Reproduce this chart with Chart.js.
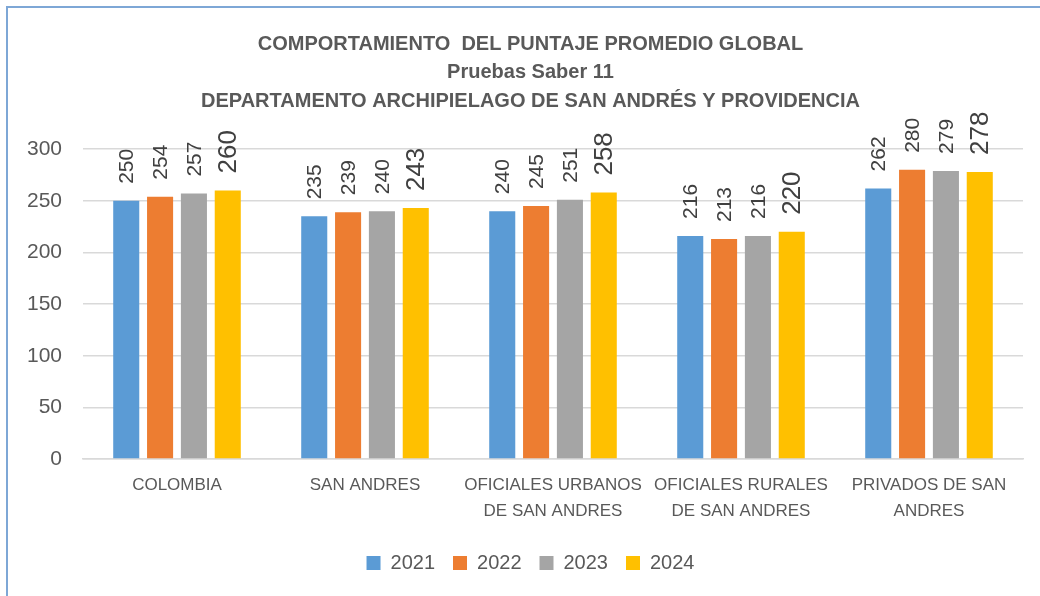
<!DOCTYPE html>
<html>
<head>
<meta charset="utf-8">
<script src="https://cdn.jsdelivr.net/npm/chart.js@4/dist/chart.umd.min.js"></script>
<style>
  body { margin: 0; background: #fff; }
  .frame { position: absolute; left: 6px; top: 6px; width: 1034px; height: 590px;
           border-top: 2px solid #7ea7d6; border-left: 2px solid #7ea7d6; }
  .wrap { position: absolute; left: 0; top: 0; width: 1040px; height: 596px; }
</style>
</head>
<body>
<div class="frame"></div>
<div class="wrap"><canvas class="js-chart" width="1040" height="596"></canvas></div>
<script>
const ctx = document.querySelector('.js-chart').getContext('2d');

const CATEGORIES = [
    ['COLOMBIA'],
    ['SAN ANDRES'],
    ['OFICIALES URBANOS', 'DE SAN ANDRES'],
    ['OFICIALES RURALES', 'DE SAN ANDRES'],
    ['PRIVADOS DE SAN', 'ANDRES'],
];
const YEARS = ['2021', '2022', '2023', '2024'];
const SCORES_2021 = [250, 235, 240, 216, 262];
const SCORES_2022 = [254, 239, 245, 213, 280];
const SCORES_2023 = [257, 240, 251, 216, 279];
const SCORES_2024 = [260, 243, 258, 220, 278];
const Y_TICKS = [0, 50, 100, 150, 200, 250, 300];

const COLORS = ['#5B9BD5', '#ED7D31', '#A5A5A5', '#FFC000'];
const TEXT = '#595959';
const FONT = '"Liberation Sans", Arial, sans-serif';

// etiquetas verticales encima de cada barra
const valueLabels = {
    id: 'valueLabels',
    afterLayout(chart) {
        // titulo y leyenda centrados algo mas a la derecha, como en el original
        chart.titleBlock.left = 38;
        chart.legend.left = 38;
    },
    afterDatasetsDraw(chart) {
        const c = chart.ctx;
        chart.data.datasets.forEach((ds, i) => {
            const meta = chart.getDatasetMeta(i);
            const size = i === 3 ? 26 : 21;
            meta.data.forEach((bar, j) => {
                c.save();
                c.translate(bar.x, bar.y - 17);
                c.rotate(-Math.PI / 2);
                c.font = size + 'px ' + FONT;
                c.fillStyle = '#404040';
                c.textAlign = 'left';
                c.textBaseline = 'middle';
                c.fillText(ds.data[j], 0, 1);
                c.restore();
            });
        });
    }
};

new Chart(ctx, {
    type: 'bar',
    data: {
        labels: CATEGORIES,
        datasets: [SCORES_2021, SCORES_2022, SCORES_2023, SCORES_2024].map((data, i) => ({
            label: YEARS[i],
            data,
            backgroundColor: COLORS[i],
            categoryPercentage: 0.72,
            barPercentage: 0.77,
        }))
    },
    options: {
        responsive: false,
        animation: false,
        layout: { padding: { left: 0, right: 17, top: 12, bottom: 13 } },
        plugins: {
            title: {
                display: true,
                text: [
                    'COMPORTAMIENTO  DEL PUNTAJE PROMEDIO GLOBAL',
                    'Pruebas Saber 11',
                    'DEPARTAMENTO ARCHIPIELAGO DE SAN ANDRÉS Y PROVIDENCIA'
                ],
                color: TEXT,
                font: { family: FONT, size: 20, weight: 'bold', lineHeight: 1.42 },
                padding: { top: 18, bottom: 34 }
            },
            legend: {
                position: 'bottom',
                labels: {
                    color: TEXT,
                    font: { family: FONT, size: 20 },
                    boxWidth: 14,
                    boxHeight: 14,
                    padding: 18
                }
            },
            tooltip: { enabled: false }
        },
        scales: {
            x: {
                afterFit(scale) { scale.height = 76; },
                grid: { display: false },
                border: { color: '#d9d9d9', width: 1.5 },
                ticks: {
                    color: TEXT,
                    font: { family: FONT, size: 17, lineHeight: 1.53 },
                    padding: 5,
                    maxRotation: 0
                }
            },
            y: {
                min: 0,
                max: 300,
                afterBuildTicks(scale) { scale.ticks = Y_TICKS.map(value => ({ value })); },
                afterFit(scale) { scale.width = 83; },
                grid: { color: '#d9d9d9', lineWidth: 1.5, drawTicks: false },
                border: { display: false },
                ticks: {
                    color: TEXT,
                    font: { family: FONT, size: 21 },
                    padding: 21
                }
            }
        }
    },
    plugins: [valueLabels]
});
</script>
</body>
</html>
